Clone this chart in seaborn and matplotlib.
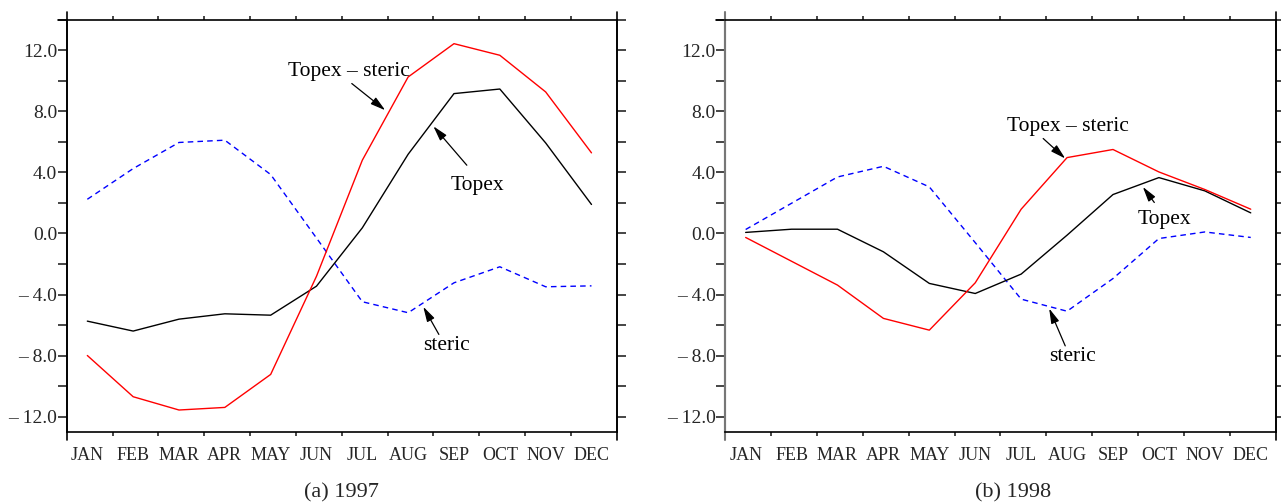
import numpy as np
import pandas as pd
import matplotlib
matplotlib.use("Agg")
import matplotlib.pyplot as plt
import seaborn as sns
from matplotlib.ticker import MultipleLocator, FixedLocator, FuncFormatter

# ---------------- data ----------------
months = ["JAN", "FEB", "MAR", "APR", "MAY", "JUN",
          "JUL", "AUG", "SEP", "OCT", "NOV", "DEC"]

topex_1997 = [-5.74, -6.39, -5.61, -5.26, -5.35, -3.45, 0.37, 5.19, 9.16, 9.46, 5.93, 1.90]
diff_1997 = [-7.99, -10.69, -11.56, -11.39, -9.23, -2.8, 4.80, 10.25, 12.43, 11.67, 9.27, 5.28]
steric_1997 = [2.24, 4.25, 5.96, 6.11, 3.86, -0.3, -4.47, -5.19, -3.23, -2.18, -3.49, -3.43]

topex_1998 = [0.07, 0.28, 0.28, -1.20, -3.27, -3.93, -2.66, -0.11, 2.55, 3.66, 2.79, 1.35]
diff_1998 = [-0.26, -1.82, -3.38, -5.56, -6.33, -3.23, 1.59, 4.97, 5.50, 4.03, 2.88, 1.59]
steric_1998 = [0.26, 1.98, 3.70, 4.40, 3.05, -0.6, -4.30, -5.09, -2.95, -0.33, 0.10, -0.26]

captions = ["(a) 1997", "(b) 1998"]
label_topex = "Topex"
label_diff = "Topex \u2013 steric"
label_steric = "steric"

# ---------------- style ----------------
sns.set_style("ticks")
plt.rcParams['font.family'] = ['Liberation Serif', 'DejaVu Serif']

fig = plt.figure(figsize=(12.81, 5.03), dpi=100)
axL = fig.add_axes([0.05207, 0.14115, 0.42935, 0.8197])
axR = fig.add_axes([0.56596, 0.14115, 0.43013, 0.8197])


def yfmt(v, pos):
    if v < 0:
        return "\u2013 %.1f" % abs(v)
    return "%.1f" % v


def draw_panel(ax, topex, diff, steric, ann, left_spine_color):
    x = np.arange(len(months))
    df = pd.DataFrame({"m": x, "topex": topex, "diff": diff, "steric": steric})
    sns.lineplot(data=df, x="m", y="steric", ax=ax, color=(0, 0, 1),
                 lw=1.0, linestyle=(0, (4, 3)))
    sns.lineplot(data=df, x="m", y="topex", ax=ax, color="black", lw=1.0)
    sns.lineplot(data=df, x="m", y="diff", ax=ax, color=(1, 0, 0), lw=1.0)
    ax.set_xlabel("")
    ax.set_ylabel("")
    ax.set_xlim(-0.45, 11.55)
    ax.set_ylim(-13, 14)

    ax.xaxis.set_major_locator(FixedLocator(x))
    ax.set_xticklabels(months)
    ax.xaxis.set_minor_locator(FixedLocator(np.arange(0.55, 11.0, 1.0)))
    ax.tick_params(axis='x', which='major', length=0, pad=11, labelsize=13)
    ax.tick_params(axis='x', which='minor', length=3, width=1.2,
                   direction='out', top=True, bottom=True)

    ax.yaxis.set_major_locator(MultipleLocator(4))
    ax.yaxis.set_minor_locator(MultipleLocator(2))
    ax.yaxis.set_major_formatter(FuncFormatter(yfmt))
    ax.tick_params(axis='y', which='both', length=6.8, width=1.2,
                   direction='out', left=True, right=True, labelsize=14, pad=0)

    for s in ax.spines.values():
        s.set_linewidth(1.2)
        s.set_color("black")
    ax.spines['left'].set_color(left_spine_color)
    ax.spines['left'].set_linewidth(1.5 if left_spine_color != "black" else 1.2)

    ext = 8 / 412.3
    hext = 9 / 550
    ax.plot([0, 0], [-ext, 1 + ext], transform=ax.transAxes, clip_on=False,
            color=left_spine_color, lw=ax.spines['left'].get_linewidth())
    ax.plot([1, 1], [-ext, 1 + ext], transform=ax.transAxes, clip_on=False,
            color="black", lw=1.2)
    ax.plot([-hext, 0], [1, 1], transform=ax.transAxes, clip_on=False,
            color="black", lw=1.2)

    for text, tpos, tail, head in ann:
        ax.annotate("", xy=head, xytext=tail,
                    arrowprops=dict(arrowstyle="-|>,head_length=0.9,head_width=0.25",
                                    color="black", lw=0.9,
                                    shrinkA=0, shrinkB=0))
        ax.text(tpos[0], tpos[1], text, ha="center", va="center",
                fontsize=15.5, color="black")


annL = [
    (label_diff, (5.71, 10.62), (5.77, 9.82), (6.50, 8.07)),
    (label_topex, (8.51, 3.16), (8.28, 4.47), (7.55, 7.02)),
    (label_steric, (7.84, -7.31), (7.67, -6.61), (7.33, -4.80)),
]
annR = [
    (label_diff, (7.02, 7.02), (6.48, 6.22), (6.96, 4.91)),
    (label_topex, (9.11, 0.94), (8.90, 2.03), (8.65, 3.05)),
    (label_steric, (7.11, -8.03), (6.96, -7.36), (6.61, -4.91)),
]

draw_panel(axL, topex_1997, diff_1997, steric_1997, annL, "black")
draw_panel(axR, topex_1998, diff_1998, steric_1998, annR, "#777777")

fig.text(341 / 1281, 0.02, captions[0], ha="center", va="center", fontsize=16)
fig.text(1013 / 1281, 0.02, captions[1], ha="center", va="center", fontsize=16)

fig.savefig("out.png", dpi=100)
